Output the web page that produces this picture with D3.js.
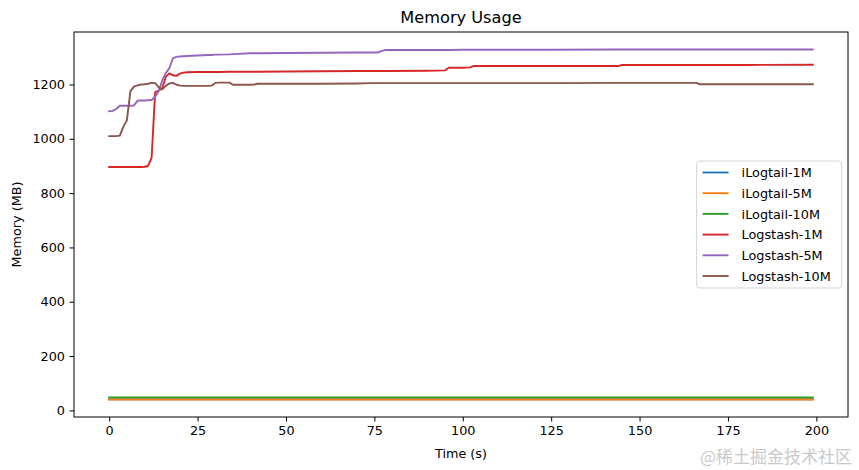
<!DOCTYPE html>
<html>
<head>
<meta charset="utf-8">
<script src="https://cdn.jsdelivr.net/npm/d3@7"></script>
<style>
  html, body { margin: 0; padding: 0; background: #fff; }
  svg { display: block; font-family: "DejaVu Sans", sans-serif; }
</style>
</head>
<body>
<svg id="chart" width="859" height="470"></svg>
<script>
// ---- data ----
const times = [0,1,2,3,4,5,6,7,8,9,10,11,12,13,14,15,16,17,18,19,20,21,22,25,28,29,30,31,34,35,40,41,42,50,60,70,74,76,77,78,90,95,96,100,102,103,125,144,145,160,166,167,180,199];

const seriesNames = ["iLogtail-1M","iLogtail-5M","iLogtail-10M","Logstash-1M","Logstash-5M","Logstash-10M"];
const seriesColors = ["#1f77b4","#ff7f0e","#2ca02c","#d62728","#9467bd","#8c564b"];

const iLogtail1M = [41,41,41,41,41,41,41,41,41,41,41,41,41,41,41,41,41,41,41,41,41,41,41,41,41,41,41,41,41,41,41,41,41,41,41,41,41,41,41,41,41,41,41,41,41,41,41,41,41,41,41,41,41,41];
const iLogtail5M = [40,40,40,40,40,40,40,40,40,40,40,40,40,40,40,40,40,40,40,40,40,40,40,40,40,40,40,40,40,40,40,40,40,40,40,40,40,40,40,40,40,40,40,40,40,40,40,40,40,40,40,40,40,40];
const iLogtail10M = [48,48,48,48,48,48,48,48,48,48,48,48,48,48,48,48,48,48,48,48,48,48,48,48,48,48,48,48,48,48,48,48,48,48,48,48,48,48,48,48,48,48,48,48,48,48,48,48,48,48,48,48,48,48];
const logstash1M = [896,896,896,896,896,896,896,896,896,896,897,900,930,1172,1178,1186,1228,1241,1234,1232,1240,1244,1245,1246,1246,1246,1246,1246,1247,1247,1247,1247,1247,1248,1249,1250,1250,1250,1250,1250,1251,1252,1262,1262,1263,1268,1268,1268,1272,1272,1272,1272,1272,1273];
const logstash5M = [1102,1103,1110,1122,1122,1122,1122,1123,1140,1141,1141,1142,1143,1155,1175,1215,1242,1260,1296,1302,1303,1304,1305,1307,1309,1309,1310,1310,1311,1312,1315,1315,1315,1316,1317,1318,1318,1318,1323,1327,1327,1327,1327,1328,1328,1328,1328,1329,1329,1329,1329,1329,1329,1329];
const logstash10M = [1010,1010,1010,1012,1044,1068,1175,1192,1197,1200,1201,1203,1206,1205,1190,1182,1195,1204,1206,1200,1196,1195,1195,1195,1195,1196,1206,1207,1207,1199,1199,1200,1203,1203,1203,1204,1205,1205,1205,1205,1205,1205,1205,1205,1205,1205,1205,1206,1206,1206,1206,1201,1201,1201];

const xTicks = [0,25,50,75,100,125,150,175,200];
const yTicks = [0,200,400,600,800,1000,1200];

const titleText = "Memory Usage";
const xLabel = "Time (s)";
const yLabel = "Memory (MB)";
const watermark = "@稀土掘金技术社区";

// ---- layout ----
const W = 859, H = 470;
const margin = {left: 74, right: 11, top: 32, bottom: 53};
const innerW = W - margin.left - margin.right;
const innerH = H - margin.top - margin.bottom;

const allSeries = [iLogtail1M, iLogtail5M, iLogtail10M, logstash1M, logstash5M, logstash10M];

const svg = d3.select("#chart");
const g = svg.append("g").attr("transform", `translate(${margin.left},${margin.top})`);

const xMin = d3.min(times), xMax = d3.max(times);
const xPad = (xMax - xMin) * 0.05;
const x = d3.scaleLinear().domain([xMin - xPad, xMax + xPad]).range([0, innerW]);

const yMin = d3.min(allSeries, s => d3.min(s)), yMax = d3.max(allSeries, s => d3.max(s));
const yPad = (yMax - yMin) * 0.05;
const y = d3.scaleLinear().domain([yMin - yPad, yMax + yPad]).range([innerH, 0]);

// lines
const line = d3.line().x((d, i) => x(times[i])).y(d => y(d));
allSeries.forEach((s, k) => {
  g.append("path")
    .datum(s)
    .attr("fill", "none")
    .attr("stroke", seriesColors[k])
    .attr("stroke-width", 1.9)
    .attr("stroke-linejoin", "round")
    .attr("stroke-linecap", "square")
    .attr("d", line);
});

// axes
const fs = 12.8;
const xAxis = g.append("g").attr("transform", `translate(0,${innerH})`)
  .call(d3.axisBottom(x).tickValues(xTicks).tickFormat(d3.format("d")).tickSize(4.5).tickPadding(4.5));
const yAxis = g.append("g")
  .call(d3.axisLeft(y).tickValues(yTicks).tickFormat(d3.format("d")).tickSize(4.5).tickPadding(4.5));
[xAxis, yAxis].forEach(a => {
  a.select(".domain").remove();
  a.selectAll(".tick line").attr("stroke", "#000").attr("stroke-width", 1);
  a.selectAll(".tick text").attr("font-size", fs).attr("fill", "#000").attr("font-family", "DejaVu Sans");
});

// frame (spines)
g.append("rect").attr("x", 0).attr("y", 0).attr("width", innerW).attr("height", innerH)
  .attr("fill", "none").attr("stroke", "#000").attr("stroke-width", 1);

// title and labels
svg.append("text").attr("x", margin.left + innerW / 2).attr("y", 23)
  .attr("text-anchor", "middle").attr("font-size", 16.2).attr("fill", "#000").text(titleText);
svg.append("text").attr("x", margin.left + innerW / 2).attr("y", 457.5)
  .attr("text-anchor", "middle").attr("font-size", fs).attr("fill", "#000").text(xLabel);
svg.append("text").attr("transform", `translate(20.5,${margin.top + innerH / 2}) rotate(-90)`)
  .attr("text-anchor", "middle").attr("font-size", fs).attr("fill", "#000").text(yLabel);

// legend (center right)
const legW = 145, legH = 127, rowH = 20.7;
const legX = innerW - 6.4 - legW;
const legY = innerH / 2 - legH / 2;
const leg = g.append("g").attr("transform", `translate(${legX},${legY})`);
leg.append("rect").attr("width", legW).attr("height", legH).attr("rx", 3)
  .attr("fill", "#fff").attr("fill-opacity", 0.8).attr("stroke", "#d4d4d4").attr("stroke-width", 1);
seriesNames.forEach((name, k) => {
  const cy = 11.5 + k * rowH;
  leg.append("line").attr("x1", 6).attr("x2", 32).attr("y1", cy).attr("y2", cy)
    .attr("stroke", seriesColors[k]).attr("stroke-width", 1.9);
  leg.append("text").attr("x", 45).attr("y", cy).attr("dy", "0.36em")
    .attr("font-size", fs).attr("fill", "#000").text(name);
});

// watermark
svg.append("text").attr("x", 852).attr("y", 463).attr("text-anchor", "end")
  .attr("font-family", "Noto Sans CJK SC").attr("font-size", 17).attr("fill", "#c9c9c9").text(watermark);
</script>
</body>
</html>
